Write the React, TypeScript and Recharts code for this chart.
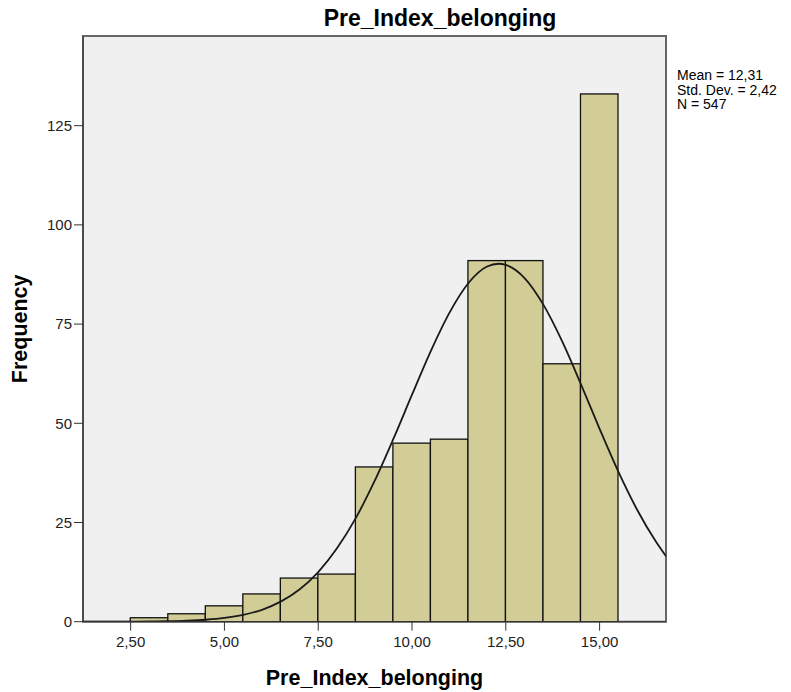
import {
  Bar,
  CartesianGrid,
  ComposedChart,
  Label,
  Line,
  ReferenceArea,
  XAxis,
  YAxis,
} from "recharts";

// histogram bins (centre of each bin, width 1)
const binCenters = [3, 4, 5, 6, 7, 8, 9, 10, 11, 12, 13, 14, 15];
const binCounts = [1, 2, 4, 7, 11, 12, 39, 45, 46, 91, 91, 65, 133];

// normal curve
const curveX = [
  1.23, 1.5, 2, 2.5, 3, 3.5, 4, 4.5, 5, 5.5, 6, 6.5, 7, 7.5, 8, 8.5, 9, 9.5, 10,
  10.5, 11, 11.5, 12, 12.31, 12.5, 13, 13.5, 14, 14.5, 15, 15.5, 16, 16.5, 16.77,
];
const curveY = [
  0, 0, 0.01, 0.02, 0.06, 0.12, 0.25, 0.49, 0.94, 1.72, 3.0, 5.05, 8.1, 12.5,
  18.5, 26.1, 35.4, 46.0, 57.2, 68.2, 77.9, 85.3, 89.5, 90.2, 89.9, 86.6, 79.9,
  70.7, 59.9, 48.6, 37.8, 28.2, 20.2, 16.5,
];

const xTicks = [2.5, 5, 7.5, 10, 12.5, 15];
const yTicks = [0, 25, 50, 75, 100, 125];

const statsLines = ["Mean = 12,31", "Std. Dev. = 2,42", "N = 547"];
const title = "Pre_Index_belonging";
const xLabel = "Pre_Index_belonging";
const yLabel = "Frequency";

const X_MIN = 1.23;
const X_MAX = 16.77;
const Y_MAX = 147.6;

const WIDTH = 791;
const HEIGHT = 692;
const Y_AXIS_W = 83;
const RIGHT = 125;
const PLOT_W = WIDTH - Y_AXIS_W - RIGHT;
const UNIT_PX = PLOT_W / (X_MAX - X_MIN);

const FONT = "'Liberation Sans', Arial, sans-serif";

const bins = binCenters.map((x, i) => ({ x, count: binCounts[i] }));
const curve = curveX.map((x, i) => ({ x, y: curveY[i] }));

const fmt = (v: number) => v.toFixed(2).replace(".", ",");

function BinRect(props: any) {
  const { x, y, width, height } = props;
  if (height == null || height <= 0) return null;
  const cx = x + width / 2;
  return (
    <rect
      x={cx - UNIT_PX / 2}
      y={y}
      width={UNIT_PX}
      height={height}
      fill="#D2CD96"
      stroke="#111"
      strokeWidth={1.3}
    />
  );
}

export default function App() {
  return (
    <div
      style={{
        position: "absolute",
        left: 0,
        top: 0,
        width: WIDTH,
        height: HEIGHT,
        overflow: "hidden",
        background: "#fff",
        fontFamily: FONT,
      }}
    >
      <ComposedChart
        width={WIDTH}
        height={HEIGHT}
        data={bins}
        margin={{ top: 36, right: RIGHT, bottom: 0, left: 0 }}
      >
        <CartesianGrid horizontal={false} vertical={false} fill="#F0F0F0" />
        <XAxis
          dataKey="x"
          type="number"
          domain={[X_MIN, X_MAX]}
          allowDataOverflow
          ticks={xTicks}
          tickFormatter={fmt}
          height={70.3}
          tickSize={9}
          tickMargin={6}
          stroke="#333"
          tick={{ fill: "#222", fontSize: 15, fontFamily: FONT }}
        >
          <Label
            value={xLabel}
            position="insideBottom"
            offset={7}
            style={{ fontSize: 21.5, fontWeight: "bold", fill: "#000", fontFamily: FONT }}
          />
        </XAxis>
        <YAxis
          type="number"
          domain={[0, Y_MAX]}
          allowDataOverflow
          ticks={yTicks}
          width={Y_AXIS_W}
          tickSize={9}
          tickMargin={2}
          stroke="#333"
          tick={{ fill: "#222", fontSize: 15, fontFamily: FONT }}
        >
          <Label
            value={yLabel}
            angle={-90}
            position="insideLeft"
            offset={19.5}
            style={{
              textAnchor: "middle",
              fontSize: 21.5,
              fontWeight: "bold",
              fill: "#000",
              fontFamily: FONT,
            }}
          />
        </YAxis>
        <ReferenceArea
          x1={X_MIN}
          x2={X_MAX}
          y1={0}
          y2={Y_MAX}
          fill="none"
          stroke="#666"
          strokeWidth={2}
        />
        <Bar
          dataKey="count"
          barSize={Math.floor(UNIT_PX) - 1}
          shape={BinRect}
          isAnimationActive={false}
        />
        <Line
          data={curve}
          dataKey="y"
          type="monotone"
          stroke="#1a1a1a"
          strokeWidth={1.8}
          dot={false}
          activeDot={false}
          isAnimationActive={false}
        />
      </ComposedChart>
      <div
        style={{
          position: "absolute",
          left: 240,
          top: 7,
          width: 400,
          textAlign: "center",
          fontSize: 23,
          lineHeight: "23px",
          fontWeight: "bold",
          color: "#000",
        }}
      >
        {title}
      </div>
      <div
        style={{
          position: "absolute",
          left: 677,
          top: 68,
          fontSize: 14,
          lineHeight: "14.5px",
          color: "#000",
          whiteSpace: "nowrap",
        }}
      >
        {statsLines.map((s) => (
          <div key={s}>{s}</div>
        ))}
      </div>
    </div>
  );
}
